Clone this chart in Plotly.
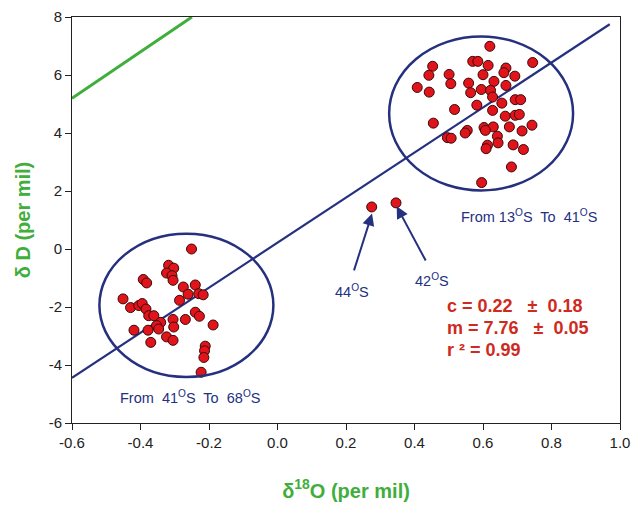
import plotly.graph_objects as go

# Data
north_x = [0.620, 0.745, 0.570, 0.585, 0.453, 0.615, 0.667, 0.661, 0.442, 0.501, 0.600, 0.693,
           0.408, 0.506, 0.558, 0.632, 0.667, 0.443, 0.564, 0.595, 0.622, 0.628, 0.694, 0.710,
           0.582, 0.655, 0.517, 0.628, 0.665, 0.694, 0.706, 0.455, 0.743, 0.603, 0.630, 0.677,
           0.714, 0.554, 0.548, 0.607, 0.496, 0.507, 0.642, 0.644, 0.613, 0.609, 0.688, 0.718,
           0.683, 0.596]
north_y = [6.99, 6.43, 6.47, 6.47, 6.30, 6.33, 6.24, 6.08, 5.99, 6.02, 6.01, 5.96,
           5.57, 5.70, 5.72, 5.78, 5.64, 5.41, 5.39, 5.50, 5.47, 5.24, 5.15, 5.15,
           4.96, 5.03, 4.81, 4.78, 4.58, 4.61, 4.64, 4.34, 4.27, 4.19, 4.21, 4.21,
           4.07, 4.09, 4.00, 4.09, 3.84, 3.82, 3.89, 3.66, 3.58, 3.46, 3.59, 3.43,
           2.83, 2.29]

south_x = [-0.251, -0.318, -0.303, -0.324, -0.308, -0.305, -0.392, -0.382, -0.275, -0.240,
           -0.261, -0.230, -0.217, -0.451, -0.286, -0.429, -0.405, -0.395, -0.384, -0.376,
           -0.361, -0.240, -0.228, -0.269, -0.305, -0.303, -0.341, -0.353, -0.347, -0.419,
           -0.378, -0.188, -0.324, -0.305, -0.370, -0.211, -0.213, -0.215, -0.223]
south_y = [0.00, -0.56, -0.66, -0.83, -0.92, -1.08, -1.05, -1.17, -1.31, -1.24,
           -1.56, -1.54, -1.58, -1.72, -1.77, -2.02, -1.95, -1.88, -2.07, -2.30,
           -2.30, -2.18, -2.32, -2.43, -2.43, -2.69, -2.53, -2.64, -2.76, -2.80,
           -2.80, -2.62, -3.03, -3.15, -3.22, -3.35, -3.51, -3.74, -4.25]

mid_x = [0.275, 0.346]
mid_y = [1.45, 1.59]
mid_labels = ["44<sup>O</sup>S", "42<sup>O</sup>S"]

reg_x = [-0.6, 0.97]
reg_y = [-4.44, 7.75]

gmwl_x = [-0.6, -0.25]
gmwl_y = [5.2, 8.0]

x_ticks = [-0.6, -0.4, -0.2, 0.0, 0.2, 0.4, 0.6, 0.8, 1.0]
y_ticks = [-6, -4, -2, 0, 2, 4, 6, 8]

stats_text = ["c = 0.22   ±  0.18", "m = 7.76   ±  0.05", "r ² = 0.99"]

NAVY = "#25307f"
GREEN = "#3fae3a"
RED_TXT = "#cf2a1e"
MARK = "#e0141a"

fig = go.Figure()

fig.add_trace(go.Scatter(x=gmwl_x, y=gmwl_y, mode="lines",
                         line=dict(color=GREEN, width=3), showlegend=False, hoverinfo="skip"))
fig.add_trace(go.Scatter(x=reg_x, y=reg_y, mode="lines",
                         line=dict(color=NAVY, width=2.2), showlegend=False, hoverinfo="skip"))

marker = dict(color=MARK, size=10, line=dict(color="#3a0a0a", width=1))
for xs, ys in [(north_x, north_y), (south_x, south_y), (mid_x, mid_y)]:
    fig.add_trace(go.Scatter(x=xs, y=ys, mode="markers", marker=marker, showlegend=False,
                             cliponaxis=False))

# Ellipses around clusters
fig.add_shape(type="circle", xref="x", yref="y", x0=0.326, x1=0.863, y0=2.02, y1=7.33,
              line=dict(color=NAVY, width=2.5))
fig.add_shape(type="circle", xref="x", yref="y", x0=-0.520, x1=-0.012, y0=-4.41, y1=0.53,
              line=dict(color=NAVY, width=2.5))

# Arrows to the isolated points
arrow_tails = [(0.222, -0.79), (0.435, -0.45)]
arrow_heads = [(0.276, 1.22), (0.348, 1.47)]
for (tx, ty), (hx, hy) in zip(arrow_tails, arrow_heads):
    fig.add_annotation(x=hx, y=hy, ax=tx, ay=ty, xref="x", yref="y", axref="x", ayref="y",
                       showarrow=True, arrowhead=2, arrowsize=1.2, arrowwidth=2,
                       arrowcolor=NAVY, text="")

label_pos = [(0.218, -1.44), (0.450, -1.06)]
for (lx, ly), t in zip(label_pos, mid_labels):
    fig.add_annotation(x=lx, y=ly, text=t, showarrow=False,
                       font=dict(family="Liberation Sans", size=14.5, color=NAVY))

fig.add_annotation(x=0.733, y=1.13, text="From 13<sup>O</sup>S  To  41<sup>O</sup>S", showarrow=False,
                   font=dict(family="Liberation Sans", size=14.5, color=NAVY))
fig.add_annotation(x=-0.255, y=-5.11, text="From  41<sup>O</sup>S  To  68<sup>O</sup>S", showarrow=False,
                   font=dict(family="Liberation Sans", size=14.5, color=NAVY))

for t, yy in zip(stats_text, [-1.98, -2.72, -3.47]):
    fig.add_annotation(x=0.488, y=yy, text="<b>" + t + "</b>", showarrow=False, xanchor="left",
                       font=dict(family="Liberation Sans", size=18, color=RED_TXT))

fig.update_xaxes(range=[-0.6, 1.0], tickvals=x_ticks, ticktext=[f"{v:.1f}" for v in x_ticks],
                 automargin=False,
                 showgrid=False, zeroline=False, showline=True, linecolor="#222", linewidth=1,
                 mirror=True, ticks="outside", ticklen=6, tickcolor="#222",
                 tickfont=dict(family="Liberation Sans", size=15, color="#222"),
                 title=dict(text="<b>δ<sup>18</sup>O (per mil)</b>", standoff=33,
                            font=dict(family="Liberation Sans", size=20, color=GREEN)))
fig.update_yaxes(range=[-6, 8], tickvals=y_ticks, ticktext=[str(v) for v in y_ticks],
                 automargin=False,
                 showgrid=False, zeroline=False, showline=True, linecolor="#222", linewidth=1,
                 mirror=True, ticks="outside", ticklen=6, tickcolor="#222",
                 tickfont=dict(family="Liberation Sans", size=15, color="#222"),
                 title=dict(text="<b>δ D (per mil)</b>", standoff=12,
                            font=dict(family="Liberation Sans", size=20, color=GREEN)))

fig.update_layout(width=632, height=506, margin=dict(l=72, r=12, t=17, b=83),
                  plot_bgcolor="white", paper_bgcolor="white")

fig.write_html("out.html", config={"displayModeBar": False},
               post_script="document.body.style.margin='0';")
